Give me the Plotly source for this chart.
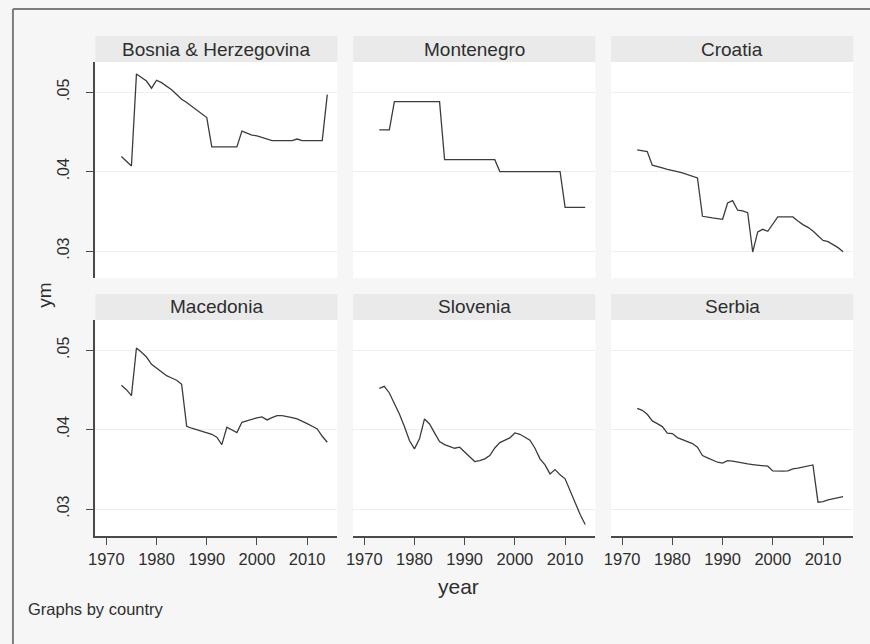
import plotly.graph_objects as go

# ---- data -------------------------------------------------------------
years = list(range(1973, 2015))

countries = ["Bosnia & Herzegovina", "Montenegro", "Croatia",
             "Macedonia", "Slovenia", "Serbia"]

bosnia = [.0419, .0413, .0407, .0523, .0518, .0514, .0505, .0515, .0512, .0508,
          .0503, .0497, .0491, .0487, .0482, .0478, .0473, .0468, .0431, .0431,
          .0431, .0431, .0431, .0431, .0451, .0448, .0446, .0445, .0443, .0441,
          .0439, .0439, .0439, .0439, .0439, .0441, .0439, .0439, .0439, .0439,
          .0439, .0497]

montenegro = [.04525, .04525, .04525,
              .0488, .0488, .0488, .0488, .0488, .0488, .0488, .0488, .0488, .0488,
              .0415, .0415, .0415, .0415, .0415, .0415, .0415, .0415, .0415, .0415, .0415,
              .0400, .0400, .0400, .0400, .0400, .0400, .0400, .0400, .0400, .0400,
              .0400, .0400, .0400,
              .0355, .0355, .0355, .0355, .0355]

croatia = [.04273, .04265, .04252, .0408, .04059, .04046, .04029, .04017, .0400, .03983,
           .03962, .03941, .0392, .03437, .03424, .03416, .03408, .03399, .03605, .03634,
           .03513, .03504, .03483, .02987, .0324, .03273, .03248, .03345, .03429, .03429,
           .03429, .03429, .03378, .03332, .03298, .03252, .03193, .03134, .03118, .0308,
           .03042, .02992]

macedonia = [.04558, .04503, .04428, .05027, .04973, .04914, .04822, .04771, .04721, .04679,
             .0465, .04621, .0457, .04042, .04017, .03996, .03975, .03958, .03941, .03904,
             .03811, .04029, .0400, .03962, .04092, .04113, .0413, .04147, .04159, .04122,
             .04151, .04176, .04176, .04168, .04151, .04134, .04109, .04075, .04042, .04008,
             .03916, .03841]

slovenia = [.0452, .04545, .04461, .04327, .04197, .04038, .03862, .03757, .03883, .04134,
            .04071, .03958, .0385, .03811, .0379, .03765, .03778, .03715, .03652, .03597,
            .0361, .03631, .03673, .03769, .03836, .03862, .03895, .03958, .03941, .03904,
            .03866, .03765, .03631, .03556, .03442, .03497, .0343, .0338, .03233, .03073,
            .02931, .02805]

serbia = [.04268, .04243, .04193, .04109, .04075, .04038, .03954, .0395, .03899, .03874,
          .0385, .03824, .03778, .03673, .03644, .03618, .03589, .03577, .0361, .03602,
          .03589, .03581, .03568, .0356, .03555, .03547, .03539, .0348, .03476, .03476,
          .0348, .03505, .03514, .03526, .03539, .03555, .03086, .03094, .03115, .03132,
          .03149, .03157]

series = [bosnia, montenegro, croatia, macedonia, slovenia, serbia]

x_ticks = [1970, 1980, 1990, 2000, 2010]
y_ticks = [0.03, 0.04, 0.05]
y_tick_labels = [".03", ".04", ".05"]

# ---- layout geometry (pixels) -----------------------------------------
W, H = 870, 644
cols = [(89, 333), (349, 593), (609, 853)]
rows_plot = [(62, 278), (320, 536)]
rows_strip = [(36, 62), (294, 320)]

FONT = "Liberation Sans, Arial, sans-serif"
TXT = "#2e2e2e"
AXIS = "#4a4a4a"
LINE = "#3c3c3c"

fig = go.Figure()
layout = dict(
    width=W, height=H,
    margin=dict(l=0, r=0, t=0, b=0),
    paper_bgcolor="#f6f6f6",
    plot_bgcolor="#ffffff",
    showlegend=False,
    font=dict(family=FONT, color=TXT),
)

shapes = []
annotations = []

for i, (name, vals) in enumerate(zip(countries, series)):
    r, c = divmod(i, 3)
    k = i + 1
    xs = "" if k == 1 else str(k)
    fig.add_trace(go.Scatter(
        x=years, y=vals, mode="lines",
        line=dict(color=LINE, width=1.3),
        xaxis="x" + xs, yaxis="y" + xs,
        hoverinfo="x+y",
    ))
    x0, x1 = cols[c]
    y0, y1 = rows_plot[r]
    xa = dict(
        domain=[x0 / W, x1 / W], range=[1967.8, 2016.0], anchor="y" + xs,
        showgrid=False, zeroline=False, fixedrange=True,
    )
    if r == 1:
        xa.update(showline=True, linecolor=AXIS, linewidth=1.6,
                  ticks="outside", ticklen=7, tickwidth=1.2, tickcolor=AXIS,
                  tickvals=x_ticks, showticklabels=True,
                  tickfont=dict(size=16.5, family=FONT, color=TXT))
    else:
        xa.update(showline=False, ticks="", showticklabels=False)
    ya = dict(
        domain=[1 - y1 / H, 1 - y0 / H], range=[0.0266, 0.0538], anchor="x" + xs,
        showgrid=True, gridcolor="#efefef", gridwidth=1, zeroline=False,
        tickvals=y_ticks, fixedrange=True,
    )
    if c == 0:
        ya.update(showline=True, linecolor=AXIS, linewidth=1.6,
                  ticks="outside", ticklen=7, tickwidth=1.2, tickcolor=AXIS,
                  ticktext=y_tick_labels, showticklabels=True, tickangle=-90,
                  ticklabelstandoff=11,
                  tickfont=dict(size=16, family=FONT, color=TXT))
    else:
        ya.update(showline=False, ticks="", showticklabels=False)
    layout["xaxis" + xs] = xa
    layout["yaxis" + xs] = ya

    # strip header with the panel label
    s0, s1 = rows_strip[r]
    shapes.append(dict(type="rect", xref="paper", yref="paper",
                       x0=x0 / W, x1=x1 / W, y0=1 - s1 / H, y1=1 - s0 / H,
                       fillcolor="#eaeaea", line=dict(width=0), layer="below"))
    annotations.append(dict(text=name, xref="paper", yref="paper",
                            x=(x0 + x1) / 2 / W, y=1 - (s0 + s1) / 2 / H,
                            xanchor="center", yanchor="middle", showarrow=False,
                            font=dict(size=19, family=FONT, color=TXT)))

# outer frame (top and left edges)
shapes.append(dict(type="line", xref="paper", yref="paper",
                   x0=6 / W, x1=1, y0=1 - 9 / H, y1=1 - 9 / H,
                   line=dict(color="#7d7d7d", width=2)))
shapes.append(dict(type="line", xref="paper", yref="paper",
                   x0=6 / W, x1=6 / W, y0=0, y1=1 - 9 / H,
                   line=dict(color="#7d7d7d", width=2)))

# shared axis titles and note
annotations.append(dict(text="ym", xref="paper", yref="paper",
                        x=37 / W, y=1 - 295 / H, textangle=-90,
                        xanchor="center", yanchor="middle", showarrow=False,
                        font=dict(size=19, family=FONT, color=TXT)))
annotations.append(dict(text="year", xref="paper", yref="paper",
                        x=455 / W, y=1 - 586 / H,
                        xanchor="center", yanchor="middle", showarrow=False,
                        font=dict(size=21, family=FONT, color=TXT)))
annotations.append(dict(text="Graphs by country", xref="paper", yref="paper",
                        x=19 / W, y=1 - 609 / H,
                        xanchor="left", yanchor="middle", showarrow=False,
                        font=dict(size=16.5, family=FONT, color=TXT)))

layout["shapes"] = shapes
layout["annotations"] = annotations
fig.update_layout(**layout)

fig.write_html("out.html")
